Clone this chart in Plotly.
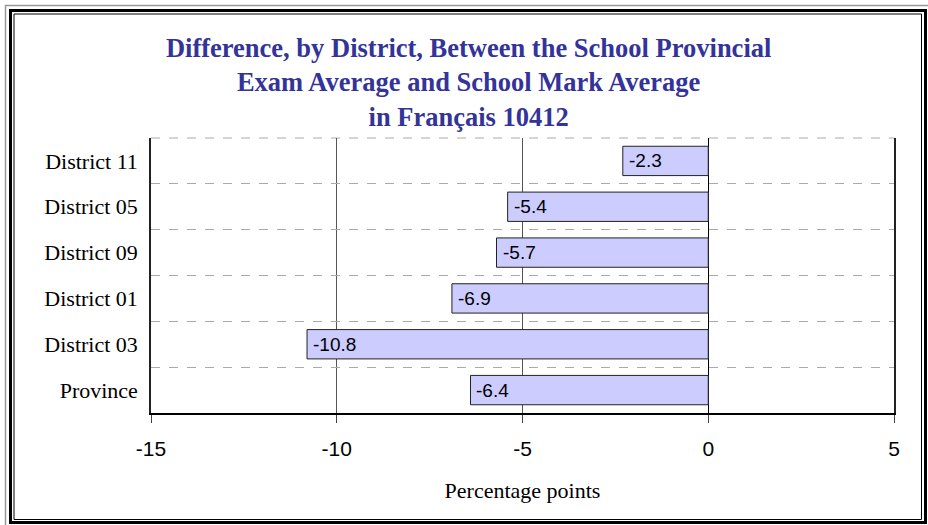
import plotly.graph_objects as go

categories = ["District 11", "District 05", "District 09", "District 01", "District 03", "Province"]
values = [-2.3, -5.4, -5.7, -6.9, -10.8, -6.4]
x_ticks = [-15, -10, -5, 0, 5]
title_lines = ["Difference, by District, Between the School Provincial",
               "Exam Average and School Mark Average",
               "in Français 10412"]

W, H = 928, 525
L, R, T, B = 151, 894, 138, 413

def px(x):
    return (x - L) / (R - L)

def py(y):
    return (B - y) / (B - T)

fig = go.Figure()
fig.add_trace(go.Bar(
    x=values, y=categories, orientation="h", width=0.64,
    marker=dict(color="#CCCCFF", line=dict(color="#222222", width=1)),
    hoverinfo="skip",
))

for v, c in zip(values, categories):
    fig.add_annotation(x=v, y=c, xref="x", yref="y", text=f"{v:.1f}",
                       showarrow=False, xanchor="left", xshift=4,
                       font=dict(family="Liberation Sans, Arial", size=19, color="black"))

shapes = []
# dashed top boundary line of plot area
shapes.append(dict(type="line", xref="paper", yref="paper", x0=0, x1=1, y0=1, y1=1,
                   line=dict(color="#aaaaaa", width=1, dash="dash"), layer="below"))
shapes.append(dict(type="rect", xref="paper", yref="paper",
                   x0=px(5.5), x1=px(929), y0=py(5.5), y1=py(530),
                   line=dict(color="#999999", width=1.5), layer="above"))
shapes.append(dict(type="rect", xref="paper", yref="paper",
                   x0=px(10.5), x1=px(925.5), y0=py(10.5), y1=py(522.5),
                   line=dict(color="black", width=3), layer="above"))
shapes.append(dict(type="rect", xref="paper", yref="paper",
                   x0=px(14), x1=px(921.5), y0=py(14), y1=py(519.5),
                   line=dict(color="black", width=1), layer="above"))

fig.update_layout(
    width=W, height=H,
    margin=dict(l=L, r=W - R, t=T, b=H - B),
    paper_bgcolor="white", plot_bgcolor="white",
    showlegend=False,
    title=dict(text="<br>".join(f"<b>{t}</b>" for t in title_lines), x=0.505, xref="container",
               xanchor="center", y=1 - 57 / H, yref="container", yanchor="top",
               font=dict(family="Liberation Serif, Times New Roman", size=26.5, color="#333399")),
    shapes=shapes,
    bargap=0.36,
)

fig.update_xaxes(
    range=[-15, 5], tickvals=x_ticks, ticktext=[str(t) for t in x_ticks],
    ticks="outside", ticklen=8, tickcolor="#444444",
    showgrid=True, gridcolor="#555555", gridwidth=1,
    zeroline=True, zerolinecolor="black", zerolinewidth=1,
    showline=True, linecolor="black", linewidth=1.5, mirror=False,
    ticklabelstandoff=8,
    tickfont=dict(family="Liberation Sans, Arial", size=21, color="black"),
    title=dict(text="Percentage points", standoff=24,
               font=dict(family="Liberation Serif, Times New Roman", size=22, color="black")),
)
fig.update_yaxes(
    categoryorder="array", categoryarray=categories, autorange="reversed",
    tickson="boundaries", ticks="", showgrid=True, gridcolor="#aaaaaa",
    griddash="dash", gridwidth=1,
    showline=True, linecolor="#222222", linewidth=1.5, mirror=True,
    ticklabelstandoff=7,
    tickfont=dict(family="Liberation Serif, Times New Roman", size=22, color="black"),
)

fig.write_html("out.html", config={"displayModeBar": False},
               post_script="document.body.style.margin='0';document.body.style.padding='0';document.body.style.overflow='hidden';")
